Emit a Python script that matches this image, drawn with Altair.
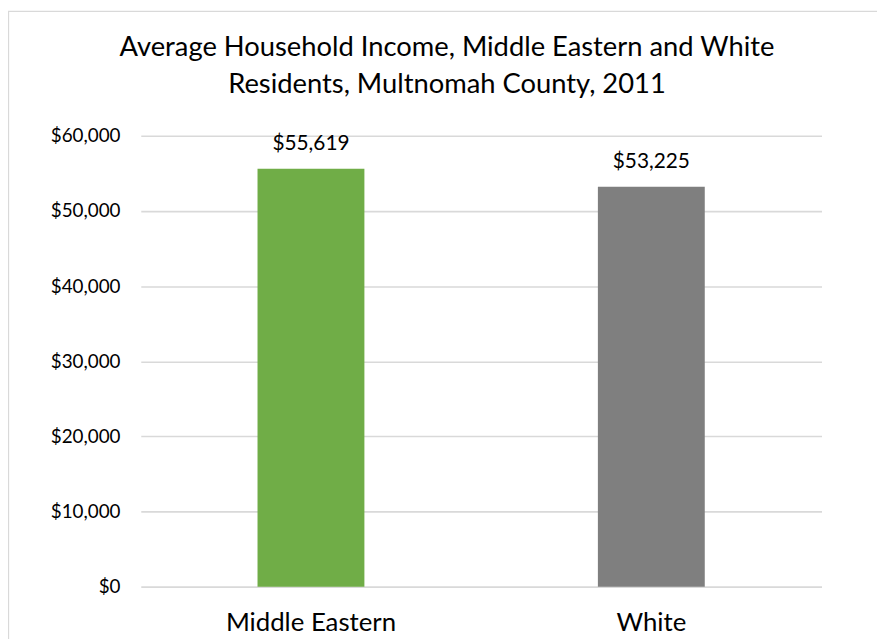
import altair as alt
import pandas as pd

categories = ["Middle Eastern", "White"]
values = [55619, 53225]
labels = ["$55,619", "$53,225"]
colors = ["#70AD47", "#7F7F7F"]
y_ticks = [0, 10000, 20000, 30000, 40000, 50000, 60000]
title_lines = ["Average Household Income, Middle Eastern and White",
               "Residents, Multnomah County, 2011"]

df = pd.DataFrame({"group": categories, "income": values, "label": labels, "color": colors})

FONT = "Lato"
W, H = 687, 455

x_enc = alt.X("group:N", sort=categories,
              scale=alt.Scale(paddingInner=0.686, paddingOuter=0.343),
              axis=alt.Axis(title=None, labelAngle=0, labelFontSize=26, labelColor="#000000",
                            labelFont=FONT, labelPadding=23, domain=False, ticks=False))
y_enc = alt.Y("income:Q", scale=alt.Scale(domain=[0, 60000], nice=False),
              axis=alt.Axis(title=None, values=y_ticks, format="$,.0f", labelFontSize=19,
                            labelFont=FONT, labelColor="#000000", labelPadding=21,
                            domain=False, ticks=False, gridColor="#D9D9D9", gridWidth=1.6))

bars = alt.Chart(df).mark_bar().encode(
    x=x_enc, y=y_enc,
    color=alt.Color("color:N", scale=None),
)

text = alt.Chart(df).mark_text(baseline="alphabetic", dy=-19, fontSize=21, font=FONT,
                               color="#000000").encode(
    x=alt.X("group:N", sort=categories), y="income:Q", text="label:N")

title = alt.Chart(alt.Data(values=[{}])).mark_text(
    text=title_lines, fontSize=27.6, font=FONT, color="#000000", align="center",
    baseline="alphabetic", lineHeight=38).encode(
    x=alt.value(309), y=alt.value(-81))

border = alt.Chart(alt.Data(values=[{}])).mark_rect(
    fill=None, filled=False, stroke="#D9D9D9", strokeWidth=1.3).encode(
    x=alt.value(-133.5), x2=alt.value(W + 120), y=alt.value(-125.5), y2=alt.value(H + 120))

chart = alt.layer(bars, text, title, border).properties(
    width=W, height=H,
    autosize=alt.AutoSizeParams(type="none"),
    padding={"left": 134, "top": 126, "right": 56, "bottom": 70},
).configure_view(stroke=None)

chart.save("out.html", embed_options={"renderer": "svg", "actions": False})
